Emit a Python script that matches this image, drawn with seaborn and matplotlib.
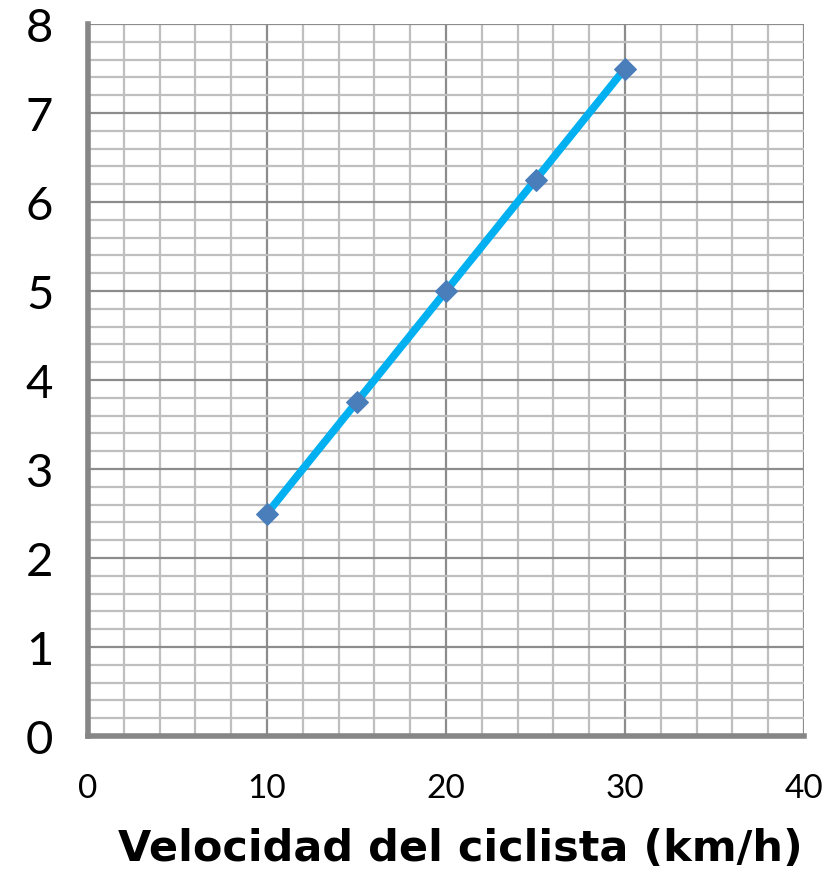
import matplotlib
matplotlib.use("Agg")
import matplotlib.pyplot as plt
from matplotlib.ticker import MultipleLocator
import seaborn as sns
import pandas as pd

# Ciclista: velocidad frente a distancia
velocidad = [10, 15, 20, 25, 30]
valores = [2.5, 3.75, 5.0, 6.25, 7.5]
xticks = [0, 10, 20, 30, 40]
yticks = [0, 1, 2, 3, 4, 5, 6, 7, 8]
xlabel = "Velocidad del ciclista (km/h)"

df = pd.DataFrame({"velocidad": velocidad, "valor": valores})

sns.set_theme(style="white")
plt.rcParams["font.family"] = ["Lato", "DejaVu Sans"]

fig = plt.figure(figsize=(8.26, 8.78), dpi=100)
ax = fig.add_axes([88 / 826, 141 / 878, (804 - 88) / 826, (737 - 25) / 878])

sns.lineplot(data=df, x="velocidad", y="valor", ax=ax, color="#00B0F0",
             linewidth=5.5, marker="D", markersize=11,
             markerfacecolor="#4A7EBB", markeredgecolor="#4A7EBB", zorder=5)

ax.set_xlim(0, 40)
ax.set_ylim(0, 8)
ax.set_xticks(xticks)
ax.set_yticks(yticks)
ax.xaxis.set_minor_locator(MultipleLocator(2))
ax.yaxis.set_minor_locator(MultipleLocator(0.2))

ax.grid(True, which="minor", color="#BFBFBF", linewidth=1.6)
ax.grid(True, which="major", color="#8C8C8C", linewidth=1.6)
ax.set_axisbelow(True)

for side in ["top", "right"]:
    ax.spines[side].set_visible(False)
for side in ["left", "bottom"]:
    ax.spines[side].set_color("#868686")
    ax.spines[side].set_linewidth(4)

ax.tick_params(axis="both", which="major", direction="out", length=13,
               width=3, color="#868686")
ax.tick_params(axis="both", which="minor", length=0)
ax.tick_params(axis="y", labelsize=34, pad=12, labelcolor="#000000")
ax.tick_params(axis="x", labelsize=24, pad=14, labelcolor="#000000")

ax.set_xlabel(xlabel, fontsize=31, fontweight="bold", color="#000000",
              family=["DejaVu Sans"])
ax.xaxis.set_label_coords(0.52, -0.128)
ax.set_ylabel("")

fig.savefig("out.png", dpi=100)
